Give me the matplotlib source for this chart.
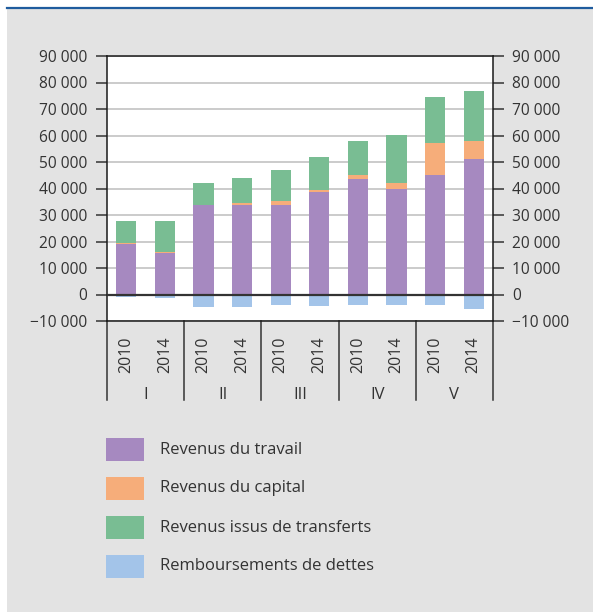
import numpy as np
import matplotlib
matplotlib.use('Agg')
import matplotlib.pyplot as plt
from matplotlib.patches import Rectangle
from matplotlib.lines import Line2D

plt.rcParams['font.family'] = ['Open Sans', 'DejaVu Sans']

groups = ['I', 'II', 'III', 'IV', 'V']
years = ['2010', '2014']
travail = [18900, 15500, 33600, 33600, 33600, 38500, 43700, 40000, 45200, 51200]
capital = [500, 400, 100, 750, 1500, 750, 1500, 2200, 12000, 6800]
transferts = [8200, 12000, 8300, 9800, 11700, 12450, 12800, 17900, 17400, 18900]
dettes = [-1000, -1500, -4800, -4800, -4000, -4400, -4000, -4000, -4000, -5300]
labels = ['Revenus du travail', 'Revenus du capital',
          'Revenus issus de transferts', 'Remboursements de dettes']
colors = ['#a689c0', '#f6ad7a', '#79bd93', '#a3c4e9']
txt = '#333333'

W, H = 593, 612
fig = plt.figure(figsize=(W / 100, H / 100), dpi=100)
fig.patch.set_facecolor('white')
fig.patches.append(Rectangle((7 / W, 0), 1, 1 - 9 / H, transform=fig.transFigure,
                             facecolor='#e3e3e3', edgecolor='none', zorder=-10))
fig.lines.append(Line2D([7 / W, 1], [1 - 8 / H, 1 - 8 / H], transform=fig.transFigure,
                        color='#1f5c9e', lw=1.6))

ax = fig.add_axes([107 / W, 1 - 321 / H, (493 - 107) / W, (321 - 56) / H])
ax.set_facecolor('white')

x = np.arange(len(travail))
bw = 0.52
travail = np.array(travail)
capital = np.array(capital)
transferts = np.array(transferts)
ax.bar(x, travail, bw, color=colors[0], zorder=2)
ax.bar(x, capital, bw, bottom=travail, color=colors[1], zorder=2)
ax.bar(x, transferts, bw, bottom=travail + capital, color=colors[2], zorder=2)
ax.bar(x, dettes, bw, color=colors[3], zorder=2)
ax.axhline(0, color='#333333', lw=1.6, zorder=3)

ax.set_xlim(-0.5, len(travail) - 0.5)
ax.set_ylim(-10000, 90000)
yt = np.arange(-10000, 90001, 10000)
ax.set_yticks(yt)
ax.set_yticklabels([('\u2212' if v < 0 else '') + f'{abs(v):,}'.replace(',', ' ') for v in yt])
ax.yaxis.grid(True, color='#bdbdbd', lw=1.1, zorder=0)
ax.set_axisbelow(True)
for s in ax.spines.values():
    s.set_color('#1a1a1a')
    s.set_linewidth(1.1)
ax.tick_params(axis='y', which='both', left=True, right=True, labelleft=True, labelright=True,
               length=8, width=1.1, color='#333333', labelsize=11.2, labelcolor=txt,
               direction='out')
ax.tick_params(axis='y', pad=6)

ax.set_xticks(x)
ax.set_xticklabels(years * len(groups), rotation=90, fontsize=11.5, color=txt)
ax.tick_params(axis='x', length=0, pad=11)

tr = ax.get_xaxis_transform()
for b in [-0.5, 1.5, 3.5, 5.5, 7.5, 9.5]:
    ax.plot([b, b], [0, -0.298], transform=tr, color='#333333', lw=1.1, clip_on=False)
for i, g in enumerate(groups):
    ax.text(2 * i + 0.5, -0.278, g, transform=tr, ha='center', va='center',
            fontsize=12, color=txt)

# legend drawn by hand in figure pixels
for i, (lab, c) in enumerate(zip(labels, colors)):
    top = 438 + 39 * i
    fig.patches.append(Rectangle((106 / W, 1 - (top + 23) / H), 38 / W, 23 / H,
                                 transform=fig.transFigure, facecolor=c, edgecolor='none'))
    fig.text(160 / W, 1 - (top + 11.5) / H, lab, ha='left', va='center',
             fontsize=12, color=txt)

fig.savefig('out.png', dpi=100, facecolor=fig.get_facecolor())
